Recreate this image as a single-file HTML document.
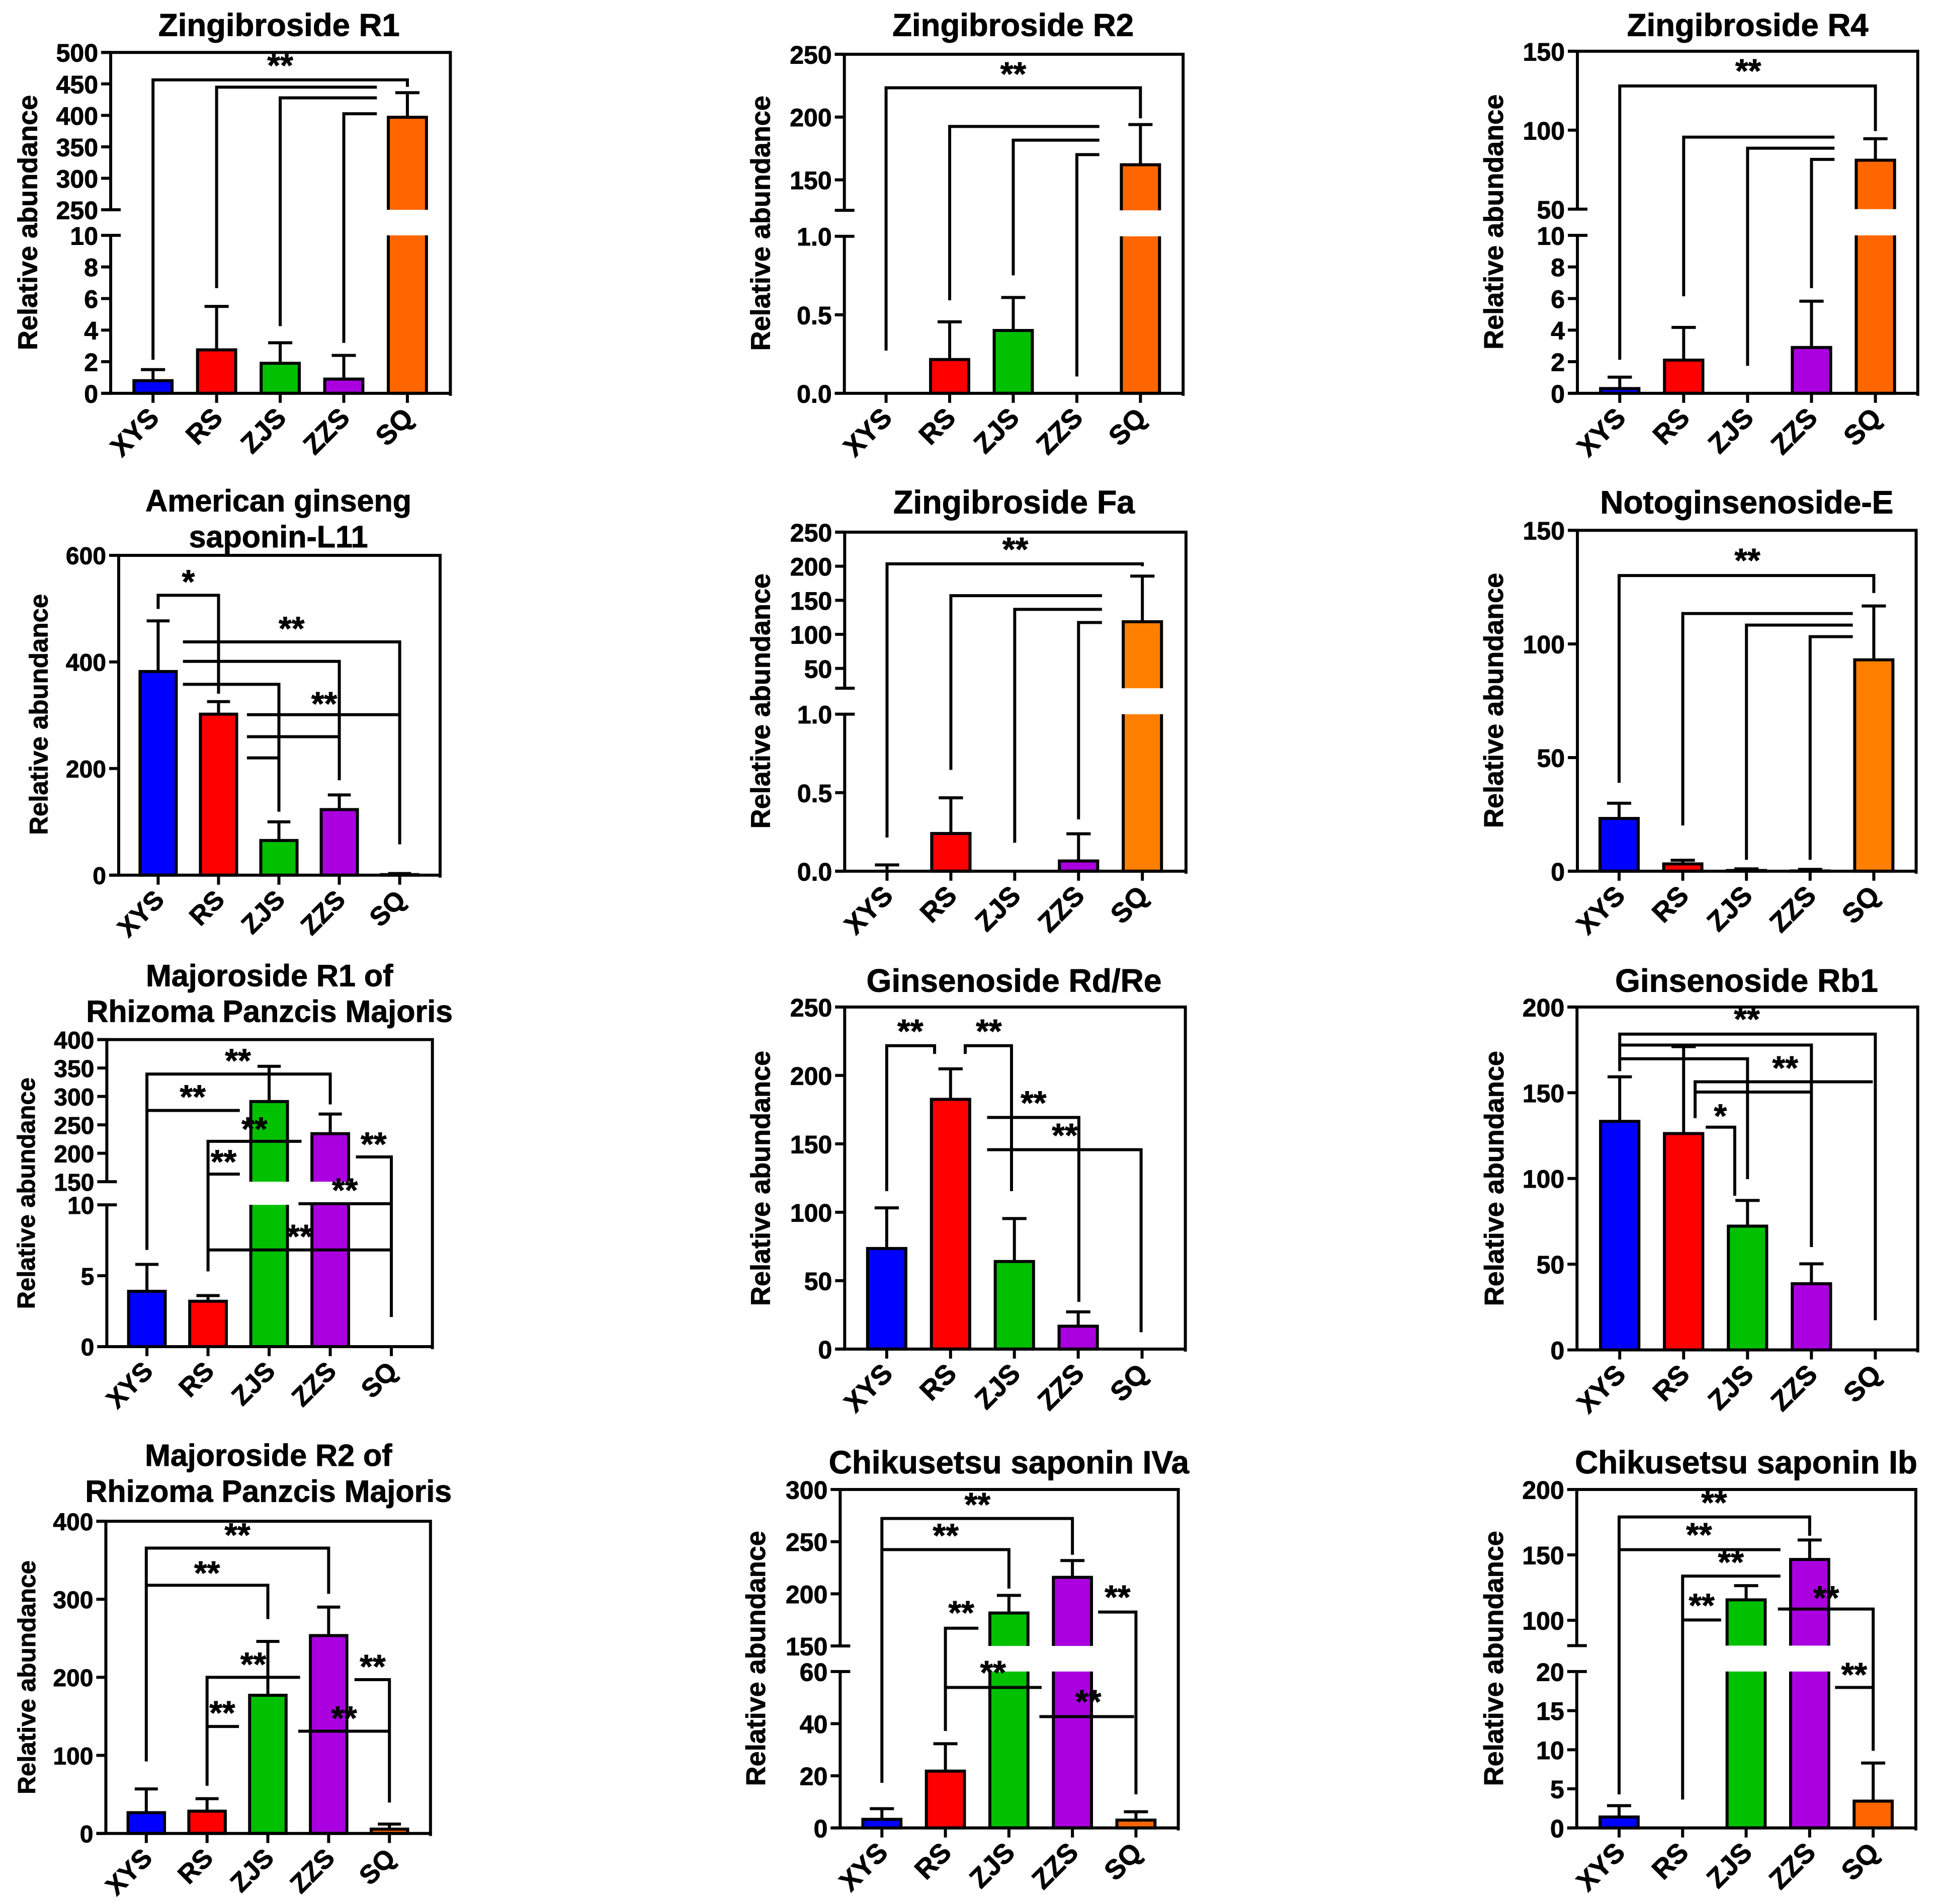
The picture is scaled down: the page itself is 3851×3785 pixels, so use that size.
<!DOCTYPE html>
<html lang="en">
<head>
<meta charset="utf-8">
<title>Relative abundance of saponins</title>
<style>
html,body{margin:0;padding:0;background:#fff;}
svg{display:block;font-family:"Liberation Sans",Arial,sans-serif;font-weight:bold;}
svg text{stroke:#000;stroke-width:0.9px;}
</style>
</head>
<body>
<svg id="figure" xmlns="http://www.w3.org/2000/svg" width="3851" height="3785" viewBox="0 0 3851 3785"></svg>
<script>
const categories = ['XYS', 'RS', 'ZJS', 'ZZS', 'SQ'];
const blue = '#0000ff', red = '#ff0000', green = '#00c000', purple = '#aa00e0';
const deepOrange = '#ff6600', lightOrange = '#ff8000';

const r1Values = [0.8, 2.75, 1.9, 0.9, 397];
const r1Sd = [0.7, 2.75, 1.3, 1.5, 39];
const r1LowerTicks = ['0', '2', '4', '6', '8', '10'];
const r1UpperTicks = ['250', '300', '350', '400', '450', '500'];
const r1Brackets = [
  [[0, 2.12], [0, 456.4], [4, 456.4], [4, 445.3]],
  [[1, 6.66], [1, 444.8], [3.52, 444.8]],
  [[2, 4.25], [2, 427.8], [3.52, 427.8]],
  [[3, 3.19], [3, 402.6], [3.52, 402.6]]
];
const r1Stars = [[2, 484.5, '**']];

const r2Values = [0, 0.215, 0.4, 0, 162];
const r2Sd = [0, 0.24, 0.21, 0, 32];
const r2LowerTicks = ['0.0', '0.5', '1.0'];
const r2UpperTicks = ['150', '200', '250'];
const r2Brackets = [
  [[0, 0.272], [0, 223.3], [4, 223.3], [4, 199]],
  [[1, 0.592], [1, 192.5], [3.354, 192.5]],
  [[2, 0.751], [2, 181.6], [3.354, 181.6]],
  [[3, 0.107], [3, 170.1], [3.354, 170.1]]
];
const r2Stars = [[2, 236.9, '**']];

const r4Values = [0.3, 2.1, 0, 2.9, 81];
const r4Sd = [0.72, 2.07, 0, 2.93, 13.6];
const r4LowerTicks = ['0', '2', '4', '6', '8', '10'];
const r4UpperTicks = ['50', '100', '150'];
const r4Brackets = [
  [[0, 2.12], [0, 128], [4, 128], [4, 99.4]],
  [[1, 6.14], [1, 95.6], [3.36, 95.6]],
  [[2, 1.74], [2, 88.6], [3.36, 88.6]],
  [[3, 6.66], [3, 81.5], [3.36, 81.5]]
];
const r4Stars = [[2.01, 139.6, '**']];

const l11Values = [382, 302, 65, 123, 1];
const l11Sd = [95, 23.5, 35, 27.5, 2];
const l11LowerTicks = ['0', '200', '400', '600'];
const l11Brackets = [
  [[0, 499.4], [0, 525], [1, 525], [1, 340.4]],
  [[0.41, 437.6], [4, 437.6], [4, 57.8]],
  [[0.41, 401], [3, 401], [3, 178]],
  [[0.41, 358], [2, 358], [2, 119]],
  [[1.47, 301], [4, 301]],
  [[1.47, 259.7], [3, 259.7]],
  [[1.47, 220], [2, 220]]
];
const l11Stars = [[0.5, 556.6, '*'], [2.21, 469, '**'], [2.75, 327.8, '**']];

const faValues = [0, 0.24, 0, 0.065, 118.5];
const faSd = [0.04, 0.227, 0, 0.173, 67];
const faLowerTicks = ['0.0', '0.5', '1.0'];
const faUpperTicks = ['50', '100', '150', '200', '250'];
const faBrackets = [
  [[0, 0.214], [0, 203.5], [4, 203.5], [4, 200]],
  [[1, 0.645], [1, 156.8], [3.367, 156.8]],
  [[2, 0.181], [2, 136.7], [3.367, 136.7]],
  [[3, 0.33], [3, 117.4], [3.367, 117.4]]
];
const faStars = [[2.01, 229.5, '**']];

const eValues = [23.2, 3.2, 0.3, 0.1, 93];
const eSd = [6.7, 1.6, 0.7, 0.7, 23.7];
const eLowerTicks = ['0', '50', '100', '150'];
const eBrackets = [
  [[0, 38.9], [0, 130.1], [4, 130.1], [4, 122.4]],
  [[1, 20.1], [1, 113.4], [3.67, 113.4]],
  [[2, 5], [2, 108.3], [3.67, 108.3]],
  [[3, 5], [3, 103.2], [3.67, 103.2]]
];
const eStars = [[2.015, 138.2, '**']];

const mr1Values = [3.9, 3.2, 291, 234.5, 0];
const mr1Sd = [1.9, 0.4, 62, 34.5, 0];
const mr1LowerTicks = ['0', '5', '10'];
const mr1UpperTicks = ['150', '200', '250', '300', '350', '400'];
const mr1Brackets = [
  [[0, 6.82], [0, 339.4], [3, 339.4], [3, 286]],
  [[0, 275.3], [1.52, 275.3]],
  [[1, 5.31], [1, 221], [2.53, 221]],
  [[1, 163.4], [1.52, 163.4]],
  [[3.42, 193.6], [4, 193.6], [4, 2.09]],
  [[2.48, 17], [4, 17]],
  [[1, 6.82], [4, 6.82]]
];
const mr1Stars = [[1.49, 368.8, '**'], [0.75, 305, '**'], [1.76, 248.4, '**'], [1.255, 191, '**'], [3.71, 222, '**'], [3.24, 118.7, '**'], [2.5, 8, '**']];

const rdValues = [73.5, 182.5, 64, 16.7, 0];
const rdSd = [29.7, 22.3, 31.4, 10.5, 0];
const rdLowerTicks = ['0', '50', '100', '150', '200', '250'];
const rdBrackets = [
  [[0, 115.4], [0, 221.7], [0.75, 221.7], [0.75, 215.7]],
  [[1.23, 215.7], [1.23, 221.7], [1.955, 221.7], [1.955, 115.4]],
  [[1.573, 169.3], [3.01, 169.3], [3.01, 34.5]],
  [[1.573, 145.7], [3.985, 145.7], [3.985, 12.3]]
];
const rdStars = [[0.37, 234.6, '**'], [1.6, 234.6, '**'], [2.3, 182.3, '**'], [2.79, 158.6, '**']];

const rb1Values = [133.3, 126.2, 72.2, 38.6, 0];
const rb1Sd = [26, 50.7, 15, 11.6, 0];
const rb1LowerTicks = ['0', '50', '100', '150', '200'];
const rb1Brackets = [
  [[0, 162.6], [0, 184.2], [4, 184.2], [4, 17.3]],
  [[0, 177.8], [3, 177.8], [3, 60]],
  [[0, 169.8], [2, 169.8], [2, 99.6]],
  [[1.18, 135.2], [1.18, 156.4], [3.96, 156.4]],
  [[1.18, 150.4], [3, 150.4]],
  [[1.346, 129.9], [1.8, 129.9], [1.8, 89.9]]
];
const rb1Stars = [[1.99, 194.8, '**'], [2.59, 166.4, '**'], [1.575, 138.3, '*']];

const mr2Values = [26.6, 28.5, 177, 253.5, 5.5];
const mr2Sd = [30.4, 16, 69, 36.5, 6.5];
const mr2LowerTicks = ['0', '100', '200', '300', '400'];
const mr2Brackets = [
  [[0, 92.2], [0, 365.6], [3, 365.6], [3, 307]],
  [[0, 318], [2, 318], [2, 274.6]],
  [[1, 61], [1, 200], [2.53, 200]],
  [[1, 137], [1.525, 137]],
  [[3.425, 197], [4, 197], [4, 39.5]],
  [[2.5, 131], [4, 131]]
];
const mr2Stars = [[1.5, 386.7, '**'], [1, 338, '**'], [1.76, 221, '**'], [1.25, 158.6, '**'], [3.725, 218, '**'], [3.255, 152, '**']];

const ivaValues = [3.3, 21.8, 181.6, 215.8, 3];
const ivaSd = [4.1, 10.5, 16.9, 16.1, 3.2];
const ivaLowerTicks = ['0', '20', '40', '60'];
const ivaUpperTicks = ['150', '200', '250', '300'];
const ivaBrackets = [
  [[0, 17.3], [0, 272.2], [3, 272.2], [3, 237.4]],
  [[0, 242.4], [2, 242.4], [2, 205]],
  [[1, 37.2], [1, 167], [1.52, 167]],
  [[1, 53.9], [2.515, 53.9]],
  [[3.404, 182.5], [4, 182.5], [4, 12.9]],
  [[2.48, 42.7], [3.97, 42.7]]
];
const ivaStars = [[1.505, 288.6, '**'], [1.005, 259, '**'], [1.25, 185, '**'], [1.75, 67.5, '**'], [3.25, 49.7, '**'], [3.71, 200, '**']];

const ibValues = [1.4, 0, 115.6, 146.5, 3.43];
const ibSd = [1.45, 0, 10.9, 14.9, 4.87];
const ibLowerTicks = ['0', '5', '10', '15', '20'];
const ibUpperTicks = ['100', '150', '200'];
const ibBrackets = [
  [[0, 4.29], [0, 179], [3, 179], [3, 164.6]],
  [[0, 154], [2.54, 154]],
  [[1, 3.63], [1, 133.8], [2.54, 133.8]],
  [[1, 100.2], [1.606, 100.2]],
  [[2.5, 108.6], [4, 108.6], [4, 9.86]],
  [[3.4, 17.97], [3.985, 17.97]]
];
const ibStars = [[1.495, 192.5, '**'], [1.258, 168, '**'], [1.76, 147, '**'], [1.3, 113.8, '**'], [3.26, 119.6, '**'], [3.7, 20.2, '**']];

const panels = [
  {slug:'zingibroside-r1', title:['Zingibroside R1'], values:r1Values, sd:r1Sd, lowerTicks:r1LowerTicks, upperTicks:r1UpperTicks, brackets:r1Brackets, stars:r1Stars, orange:deepOrange,
   view:{ox:0,oy:0,kx:1.568,ky:1.65,left:345,right:1404,top:172,bottom:1290,firstX:477,stepX:198.25,titleX:870,titleY:[118],titleFs:63.5,tickFs:50,yTitleX:115,yTitleY:730,yTitleFs:54},
   lower:[0,1290,10,772], upper:[250,688,500,172]},
  {slug:'zingibroside-r2', title:['Zingibroside R2'], values:r2Values, sd:r2Sd, lowerTicks:r2LowerTicks, upperTicks:r2UpperTicks, brackets:r2Brackets, stars:r2Stars, orange:deepOrange,
   view:{ox:1400,oy:0,kx:1.568,ky:1.65,left:437,right:1493,top:178,bottom:1290,firstX:567,stepX:198.25,titleX:963,titleY:[118],titleFs:63.5,tickFs:50,yTitleX:205,yTitleY:732,yTitleFs:54},
   lower:[0,1290,1,775], upper:[125.7,690,250,178]},
  {slug:'zingibroside-r4', title:['Zingibroside R4'], values:r4Values, sd:r4Sd, lowerTicks:r4LowerTicks, upperTicks:r4UpperTicks, brackets:r4Brackets, stars:r4Stars, orange:deepOrange,
   view:{ox:2851,oy:0,kx:1.568,ky:1.65,left:447,right:1508,top:168,bottom:1290,firstX:579,stepX:199.25,titleX:978,titleY:[118],titleFs:63.5,tickFs:50,yTitleX:215,yTitleY:728,yTitleFs:54},
   lower:[0,1290,10,772], upper:[50,686,150,168]},
  {slug:'american-ginseng-saponin-l11', title:['American ginseng','saponin-L11'], values:l11Values, sd:l11Sd, lowerTicks:l11LowerTicks, upperTicks:null, brackets:l11Brackets, stars:l11Stars, orange:deepOrange,
   view:{ox:0,oy:950,kx:1.568,ky:1.65,left:370,right:1372,top:254,bottom:1303,firstX:493,stepX:188.25,titleX:868,titleY:[110,228],titleFs:61,tickFs:48,yTitleX:148,yTitleY:776,yTitleFs:51},
   lower:[0,1303,600,254], upper:null},
  {slug:'zingibroside-fa', title:['Zingibroside Fa'], values:faValues, sd:faSd, lowerTicks:faLowerTicks, upperTicks:faUpperTicks, brackets:faBrackets, stars:faStars, orange:lightOrange,
   view:{ox:1400,oy:950,kx:1.568,ky:1.65,left:438,right:1502,top:178,bottom:1290,firstX:570,stepX:199,titleX:966,titleY:[116],titleFs:64.5,tickFs:50,yTitleX:205,yTitleY:732,yTitleFs:54},
   lower:[0,1290,1,775], upper:[20.9,690,250,178]},
  {slug:'notoginsenoside-e', title:['Notoginsenoside-E'], values:eValues, sd:eSd, lowerTicks:eLowerTicks, upperTicks:null, brackets:eBrackets, stars:eStars, orange:lightOrange,
   view:{ox:2851,oy:950,kx:1.568,ky:1.65,left:447,right:1503,top:172,bottom:1290,firstX:577,stepX:198.5,titleX:975,titleY:[116],titleFs:64,tickFs:50,yTitleX:215,yTitleY:730,yTitleFs:54},
   lower:[0,1290,150,172], upper:null},
  {slug:'majoroside-r1', title:['Majoroside R1 of','Rhizoma Panzcis Majoris'], values:mr1Values, sd:mr1Sd, lowerTicks:mr1LowerTicks, upperTicks:mr1UpperTicks, brackets:mr1Brackets, stars:mr1Stars, orange:deepOrange,
   view:{ox:0,oy:1900,kx:1.568,ky:1.65,left:333,right:1348,top:275,bottom:1282,firstX:458,stepX:190.5,titleX:840,titleY:[100,217],titleFs:61,tickFs:48,yTitleX:108,yTitleY:779,yTitleFs:49},
   lower:[0,1282,10,817], upper:[150,741,400,275]},
  {slug:'ginsenoside-rd-re', title:['Ginsenoside Rd/Re'], values:rdValues, sd:rdSd, lowerTicks:rdLowerTicks, upperTicks:null, brackets:rdBrackets, stars:rdStars, orange:deepOrange,
   view:{ox:1400,oy:1900,kx:1.568,ky:1.65,left:438,right:1500,top:168,bottom:1290,firstX:569,stepX:199,titleX:966,titleY:[118],titleFs:64,tickFs:50,yTitleX:205,yTitleY:730,yTitleFs:54},
   lower:[0,1290,250,168], upper:null},
  {slug:'ginsenoside-rb1', title:['Ginsenoside Rb1'], values:rb1Values, sd:rb1Sd, lowerTicks:rb1LowerTicks, upperTicks:null, brackets:rb1Brackets, stars:rb1Stars, orange:deepOrange,
   view:{ox:2900,oy:1900,kx:1.649,ky:1.649,left:388,right:1505,top:168,bottom:1292,firstX:528,stepX:209.5,titleX:944,titleY:[118],titleFs:64,tickFs:50,yTitleX:147,yTitleY:730,yTitleFs:54},
   lower:[0,1292,200,168], upper:null},
  {slug:'majoroside-r2', title:['Majoroside R2 of','Rhizoma Panzcis Majoris'], values:mr2Values, sd:mr2Sd, lowerTicks:mr2LowerTicks, upperTicks:null, brackets:mr2Brackets, stars:mr2Stars, orange:deepOrange,
   view:{ox:0,oy:2835,kx:1.568,ky:1.65,left:330,right:1342,top:312,bottom:1336,firstX:456,stepX:189.5,titleX:837,titleY:[130,248],titleFs:61,tickFs:48,yTitleX:110,yTitleY:824,yTitleFs:49.5},
   lower:[0,1336,400,312], upper:null},
  {slug:'chikusetsu-saponin-iva', title:['Chikusetsu saponin IVa'], values:ivaValues, sd:ivaSd, lowerTicks:ivaLowerTicks, upperTicks:ivaUpperTicks, brackets:ivaBrackets, stars:ivaStars, orange:deepOrange,
   view:{ox:1400,oy:2835,kx:1.568,ky:1.65,left:424,right:1478,top:208,bottom:1318,firstX:554,stepX:198,titleX:950,titleY:[155],titleFs:63.8,tickFs:50,yTitleX:190,yTitleY:762,yTitleFs:54},
   lower:[0,1318,60,805], upper:[150,721,300,208]},
  {slug:'chikusetsu-saponin-ib', title:['Chikusetsu saponin Ib'], values:ibValues, sd:ibSd, lowerTicks:ibLowerTicks, upperTicks:ibUpperTicks, brackets:ibBrackets, stars:ibStars, orange:deepOrange,
   view:{ox:2851,oy:2835,kx:1.568,ky:1.65,left:445,right:1502,top:208,bottom:1318,firstX:577,stepX:198,titleX:973,titleY:[155],titleFs:63.8,tickFs:50,yTitleX:215,yTitleY:762,yTitleFs:54},
   lower:[0,1318,20,805], upper:[80.6,720,200,208]}
];

const NS = 'http://www.w3.org/2000/svg';
const figure = document.getElementById('figure');
const axisWidth = 6;
const markWidth = 6;

function make(tag, attrs, parent, text) {
  const e = document.createElementNS(NS, tag);
  for (const k in attrs) e.setAttribute(k, attrs[k]);
  if (text !== undefined) e.textContent = text;
  parent.appendChild(e);
  return e;
}
function lerp(seg, v) {
  return seg[1] + (v - seg[0]) * (seg[3] - seg[1]) / (seg[2] - seg[0]);
}
function axisPixel(p, v) {
  if (!p.upper || v <= p.lower[2]) return lerp(p.lower, v);
  if (v >= p.upper[0]) return lerp(p.upper, v);
  return lerp([p.lower[2], p.lower[3], p.upper[0], p.upper[1]], v);
}
function linePath(points) {
  return points.map((q, i) => (i ? 'L' : 'M') + q[0].toFixed(2) + ' ' + q[1].toFixed(2)).join(' ');
}

function drawPanel(p) {
  const w = p.view;
  const sx = z => w.ox + z / w.kx;
  const sy = z => w.oy + z / w.ky;
  const xAxis = i => sx(w.firstX + i * w.stepX);
  const yAxis = v => sy(axisPixel(p, v));
  const barWidth = 0.6 * w.stepX / w.kx;
  const capWidth = 0.38 * w.stepX / w.kx;
  const tickLen = 19;
  const colors = [blue, red, green, purple, p.orange];
  const leftX = sx(w.left), rightX = sx(w.right), topY = sy(w.top), baseY = sy(w.bottom);
  const xLabelFs = w.tickFs * 1.09;

  const g = make('g', {}, figure);
  
  

  p.title.forEach((line, n) => {
    const t = make('text', {x: sx(w.titleX), y: w.oy + w.titleY[n] / w.ky, 'text-anchor': 'middle', 'font-size': w.titleFs}, g, line);
    
    
  });

  const yt = make('text', {transform: 'translate(' + sx(w.yTitleX) + ',' + sy(w.yTitleY) + ') rotate(-90)', 'text-anchor': 'middle', 'font-size': w.yTitleFs}, g, 'Relative abundance');
  
  

  categories.forEach((cat, i) => {
    const value = p.values[i];
    const sd = p.sd[i];
    const cx = xAxis(i);
    const x0 = cx - barWidth / 2, x1 = cx + barWidth / 2;
    const key = cat.toLowerCase();
    if (value > 0) {
      const top = yAxis(value);
      if (p.upper && value > p.lower[2]) {
        const lowTop = yAxis(p.lower[2]);
        const brk = sy(p.upper[1]);
        const lowerPart = make('path', {d: linePath([[x0, lowTop], [x0, baseY], [x1, baseY], [x1, lowTop]]), fill: colors[i], stroke: '#000', 'stroke-width': markWidth}, g);
        
        
        const upperPart = make('path', {d: linePath([[x0, brk], [x0, top], [x1, top], [x1, brk]]), fill: colors[i], stroke: '#000', 'stroke-width': markWidth}, g);
        
        
      } else {
        const bar = make('rect', {x: x0, y: top, width: barWidth, height: Math.max(0, baseY - top), fill: colors[i], stroke: '#000', 'stroke-width': markWidth}, g);
        
        
      }
    }
    if (sd > 0) {
      const top = yAxis(value), cap = yAxis(value + sd);
      const err = make('path', {d: linePath([[cx, top], [cx, cap]]) + ' ' + linePath([[cx - capWidth / 2, cap], [cx + capWidth / 2, cap]]), fill: 'none', stroke: '#000', 'stroke-width': markWidth}, g);
      
      
    }
  });

  const axisD = p.upper
    ? linePath([[leftX, topY], [leftX, sy(p.upper[1])]]) + ' ' + linePath([[leftX, sy(p.lower[3])], [leftX, baseY]])
    : linePath([[leftX, topY], [leftX, baseY]]);
  const axisLine = make('path', {d: axisD, fill: 'none', stroke: '#000', 'stroke-width': axisWidth}, g);
  
  
  const baseLine = make('path', {d: linePath([[leftX - tickLen, baseY], [rightX, baseY]]), fill: 'none', stroke: '#000', 'stroke-width': axisWidth}, g);
  
  
  const frame = make('path', {d: linePath([[leftX - tickLen, topY], [rightX, topY], [rightX, baseY + 5]]), fill: 'none', stroke: '#000', 'stroke-width': axisWidth}, g);
  
  

  const drawYTick = (y, label, inner) => {
    const tick = make('path', {d: linePath([[leftX - tickLen, y], [leftX + inner, y]]), fill: 'none', stroke: '#000', 'stroke-width': axisWidth}, g);
    
    
    if (label !== null) {
      const lab = make('text', {x: leftX - tickLen - 6, y: y + w.tickFs * 0.37, 'text-anchor': 'end', 'font-size': w.tickFs}, g, label);
      
      
    }
  };
  p.lowerTicks.forEach(label => {
    const v = parseFloat(label);
    const isBreak = p.upper && v === p.lower[2];
    drawYTick(yAxis(v), label, isBreak ? 20 : 0);
  });
  if (p.upper) {
    p.upperTicks.forEach(label => {
      const v = parseFloat(label);
      drawYTick(yAxis(v), label, v === p.upper[0] ? 20 : 0);
    });
    if (parseFloat(p.upperTicks[0]) !== p.upper[0]) drawYTick(sy(p.upper[1]), null, 20);
  }

  categories.forEach((cat, i) => {
    const cx = xAxis(i);
    const tick = make('path', {d: linePath([[cx, baseY], [cx, baseY + tickLen]]), fill: 'none', stroke: '#000', 'stroke-width': axisWidth}, g);
    
    
    const lab = make('text', {transform: 'translate(' + (cx + 15) + ',' + (baseY + 52) + ') rotate(-45)', 'text-anchor': 'end', 'font-size': xLabelFs}, g, cat);
    
    
  });

  p.brackets.forEach(points => {
    const br = make('path', {d: linePath(points.map(q => [xAxis(q[0]), yAxis(q[1])])), fill: 'none', stroke: '#000', 'stroke-width': markWidth, 'stroke-linejoin': 'miter'}, g);
    
    
  });
  p.stars.forEach(s => {
    const st = make('text', {x: xAxis(s[0]), y: yAxis(s[1]) + 66 * 0.44, 'text-anchor': 'middle', 'font-size': 66}, g, s[2]);
    
    
  });
}

panels.forEach(drawPanel);
</script>
</body>
</html>
